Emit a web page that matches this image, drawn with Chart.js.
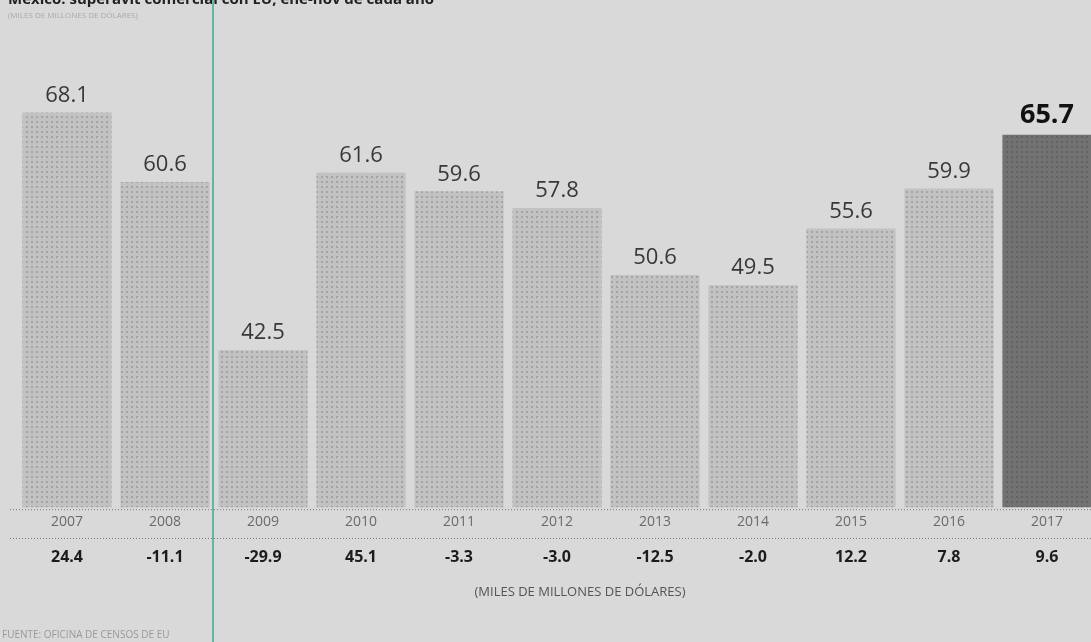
<!DOCTYPE html>
<html>
<head>
<meta charset="utf-8">
<script src="https://cdn.jsdelivr.net/npm/chart.js@4/dist/chart.umd.min.js"></script>
<style>
  body { margin: 0; background: #d9d9d9; font-family: "Open Sans", sans-serif; }
  #wrap { position: relative; width: 1091px; height: 642px; overflow: hidden; background: #d9d9d9; }
  #title { position: absolute; left: 8px; top: -12px; font-size: 15px; font-weight: bold; color: #222; white-space: nowrap; }
  #sub { position: absolute; left: 8px; top: 9px; font-size: 8px; color: #aaa; white-space: nowrap; }
  #fuente { position: absolute; left: 2px; top: 627px; font-size: 10px; color: #999; white-space: nowrap; }
  #fold { position: absolute; left: 212px; top: 0; width: 2px; height: 642px; background: #5fb7a4; }
  canvas { position: absolute; left: 0; top: 0; }
</style>
</head>
<body>
<div id="wrap">
  <canvas id="chart" width="1096" height="642"></canvas>
  <div id="title">México: superávit comercial con EU, ene-nov de cada año</div>
  <div id="sub">(MILES DE MILLONES DE DÓLARES)</div>
  <div id="fuente">FUENTE: OFICINA DE CENSOS DE EU</div>
  <div id="fold"></div>
</div>
<script>
const years = ['2007', '2008', '2009', '2010', '2011', '2012', '2013', '2014', '2015', '2016', '2017'];
const surplus = [68.1, 60.6, 42.5, 61.6, 59.6, 57.8, 50.6, 49.5, 55.6, 59.9, 65.7];
const change = [24.4, -11.1, -29.9, 45.1, -3.3, -3.0, -12.5, -2.0, 12.2, 7.8, 9.6];
const unitLabel = '(MILES DE MILLONES DE DÓLARES)';

// halftone fill like the printed bars
function dotPattern(base, dot) {
  const c = document.createElement('canvas');
  c.width = 5; c.height = 5;
  const g = c.getContext('2d');
  g.fillStyle = base; g.fillRect(0, 0, 5, 5);
  g.fillStyle = dot; g.fillRect(1, 1, 2, 2);
  return document.getElementById('chart').getContext('2d').createPattern(c, 'repeat');
}

const lightFill = dotPattern('#c2c2c2', '#a4a4a4');
const darkFill = dotPattern('#727272', '#626262');

const extras = {
  id: 'extras',
  afterDatasetsDraw(chart) {
    const ctx = chart.ctx;
    const area = chart.chartArea;
    const meta = chart.getDatasetMeta(0);
    ctx.save();

    // dotted rules
    ctx.strokeStyle = '#777';
    ctx.lineWidth = 1;
    ctx.setLineDash([1, 2]);
    [area.bottom + 2.5, 538.5].forEach(y => {
      ctx.beginPath();
      ctx.moveTo(10, y);
      ctx.lineTo(1096, y);
      ctx.stroke();
    });
    ctx.setLineDash([]);

    ctx.textAlign = 'center';
    meta.data.forEach((bar, i) => {
      const last = i === years.length - 1;
      ctx.textBaseline = 'bottom';
      ctx.font = last ? 'bold 27px "Open Sans"' : '22px "Open Sans"';
      ctx.fillStyle = last ? '#111' : '#383838';
      ctx.fillText(surplus[i].toFixed(1), bar.x, bar.y - 6);

      ctx.textBaseline = 'middle';
      ctx.font = 'bold 16px "Open Sans"';
      ctx.fillStyle = '#1c1c1c';
      ctx.fillText(change[i].toFixed(1), bar.x, 557);
    });

    ctx.font = '13px "Open Sans"';
    ctx.fillStyle = '#555';
    ctx.fillText(unitLabel, 580, 592);
    ctx.restore();
  }
};

new Chart(document.getElementById('chart'), {
  type: 'bar',
  data: {
    labels: years,
    datasets: [{
      data: surplus,
      backgroundColor: surplus.map((v, i) => i === years.length - 1 ? darkFill : lightFill),
      borderWidth: 0,
      categoryPercentage: 1,
      barPercentage: 0.91
    }]
  },
  options: {
    responsive: false,
    animation: false,
    layout: { padding: { left: 18, right: 0, top: 26, bottom: 106 } },
    plugins: { legend: { display: false }, tooltip: { enabled: false } },
    scales: {
      x: {
        grid: { display: false, drawTicks: false },
        border: { display: false },
        ticks: { color: '#6a6a6a', font: { size: 14, family: 'Open Sans' }, padding: 6 }
      },
      y: { display: false, min: 25.6, max: 77.4 }
    }
  },
  plugins: [extras]
});
</script>
</body>
</html>
